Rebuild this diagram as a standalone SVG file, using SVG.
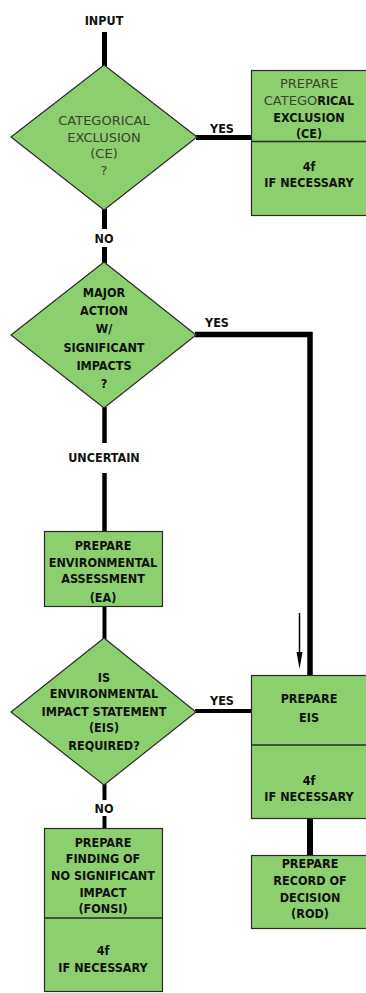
<svg xmlns="http://www.w3.org/2000/svg" width="366" height="993" viewBox="0 0 366 993">
<defs>
<style>
.shape{fill:#8ccf6e;stroke:#2b2b2b;stroke-width:1.2}
.div{stroke:#2b2b2b;stroke-width:1.5}
.t{font-family:"DejaVu Sans Condensed","DejaVu Sans","Liberation Sans",sans-serif;font-stretch:condensed;font-size:12.5px;font-weight:bold;fill:#111;text-anchor:middle}
.g{font-family:"DejaVu Sans","Liberation Sans",sans-serif;font-stretch:normal;font-size:13px;font-weight:normal;fill:#3a4430}
.c{fill:none;stroke:#000;stroke-linecap:butt}
</style>
</defs>
<rect width="366" height="993" fill="#fff"/>
<g id="connectors">
<line class="c" x1="104.5" y1="32" x2="104.5" y2="66" stroke-width="5"/>
<line class="c" x1="196" y1="137.5" x2="252" y2="137.5" stroke-width="5"/>
<line class="c" x1="104.5" y1="209" x2="104.5" y2="229" stroke-width="5"/>
<line class="c" x1="104.5" y1="247" x2="104.5" y2="263" stroke-width="5"/>
<polyline class="c" points="195,334.5 310,334.5 310,676" stroke-width="5.5" stroke-linejoin="miter"/>
<line class="c" x1="104.5" y1="407" x2="104.5" y2="443" stroke-width="4.5"/>
<line class="c" x1="104.5" y1="473" x2="104.5" y2="531" stroke-width="4.5"/>
<line class="c" x1="104.5" y1="606" x2="104.5" y2="639" stroke-width="4"/>
<line class="c" x1="195" y1="711" x2="252" y2="711" stroke-width="4"/>
<line class="c" x1="104.5" y1="784" x2="104.5" y2="800" stroke-width="4"/>
<line class="c" x1="104.5" y1="816" x2="104.5" y2="828" stroke-width="4"/>
<line class="c" x1="310" y1="818" x2="310" y2="855" stroke-width="6"/>
<line class="c" x1="299.5" y1="613" x2="299.5" y2="655" stroke-width="1.5"/>
<polygon points="296.5,652 302.5,652 299.5,669" fill="#000"/>
<text class="t" x="104" y="25">INPUT</text>
<text class="t" x="222" y="133">YES</text>
<text class="t" x="104" y="243">NO</text>
<text class="t" x="217" y="327">YES</text>
<text class="t" x="104" y="462">UNCERTAIN</text>
<text class="t" x="222" y="705">YES</text>
<text class="t" x="104" y="813">NO</text>
</g>
<g id="ce-question">
<polygon class="shape" points="104,65 197,137 104,210 11,137"/>
<text class="t g" x="104" y="125">CATEGORICAL</text>
<text class="t g" x="104" y="142">EXCLUSION</text>
<text class="t g" x="104" y="158">(CE)</text>
<text class="t g" x="104" y="175">?</text>
</g>
<g id="ce-box">
<rect class="shape" x="251.5" y="70.5" width="120" height="145"/>
<line class="div" x1="251.5" y1="141.5" x2="366" y2="141.5"/>
<text class="t g" x="309" y="88">PREPARE</text>
<text class="t" x="309" y="105"><tspan class="g">CATEGO</tspan>RICAL</text>
<text class="t" x="309" y="122">EXCLUSION</text>
<text class="t" x="309" y="138">(CE)</text>
<text class="t" x="309" y="171">4f</text>
<text class="t" x="309" y="187">IF NECESSARY</text>
</g>
<g id="major-action">
<polygon class="shape" points="104,262 196,335 104,408 11,335"/>
<text class="t" x="104" y="297">MAJOR</text>
<text class="t" x="104" y="315">ACTION</text>
<text class="t" x="104" y="333">W/</text>
<text class="t" x="104" y="352">SIGNIFICANT</text>
<text class="t" x="104" y="370">IMPACTS</text>
<text class="t" x="104" y="388">?</text>
</g>
<g id="ea-box">
<rect class="shape" x="44.5" y="531.5" width="118" height="75"/>
<text class="t" x="103" y="550">PREPARE</text>
<text class="t" x="103" y="567">ENVIRONMENTAL</text>
<text class="t" x="103" y="583">ASSESSMENT</text>
<text class="t" x="103" y="602">(EA)</text>
</g>
<g id="eis-question">
<polygon class="shape" points="104,638 196,712 104,785 11,712"/>
<text class="t" x="104" y="682">IS</text>
<text class="t" x="104" y="698">ENVIRONMENTAL</text>
<text class="t" x="104" y="716">IMPACT STATEMENT</text>
<text class="t" x="104" y="732">(EIS)</text>
<text class="t" x="104" y="750">REQUIRED?</text>
</g>
<g id="eis-box">
<rect class="shape" x="251.5" y="675.5" width="120" height="143"/>
<line class="div" x1="251.5" y1="745" x2="366" y2="745"/>
<text class="t" x="309" y="703">PREPARE</text>
<text class="t" x="309" y="722">EIS</text>
<text class="t" x="309" y="785">4f</text>
<text class="t" x="309" y="801">IF NECESSARY</text>
</g>
<g id="rod-box">
<rect class="shape" x="251.5" y="855.5" width="120" height="73"/>
<text class="t" x="310" y="868">PREPARE</text>
<text class="t" x="310" y="885">RECORD OF</text>
<text class="t" x="310" y="902">DECISION</text>
<text class="t" x="310" y="918">(ROD)</text>
</g>
<g id="fonsi-box">
<rect class="shape" x="44.5" y="828.5" width="118" height="163"/>
<line class="div" x1="44.5" y1="918" x2="162.5" y2="918"/>
<text class="t" x="103" y="847">PREPARE</text>
<text class="t" x="103" y="863">FINDING OF</text>
<text class="t" x="103" y="880">NO SIGNIFICANT</text>
<text class="t" x="103" y="897">IMPACT</text>
<text class="t" x="103" y="913">(FONSI)</text>
<text class="t" x="103" y="955">4f</text>
<text class="t" x="103" y="972">IF NECESSARY</text>
</g>
</svg>
